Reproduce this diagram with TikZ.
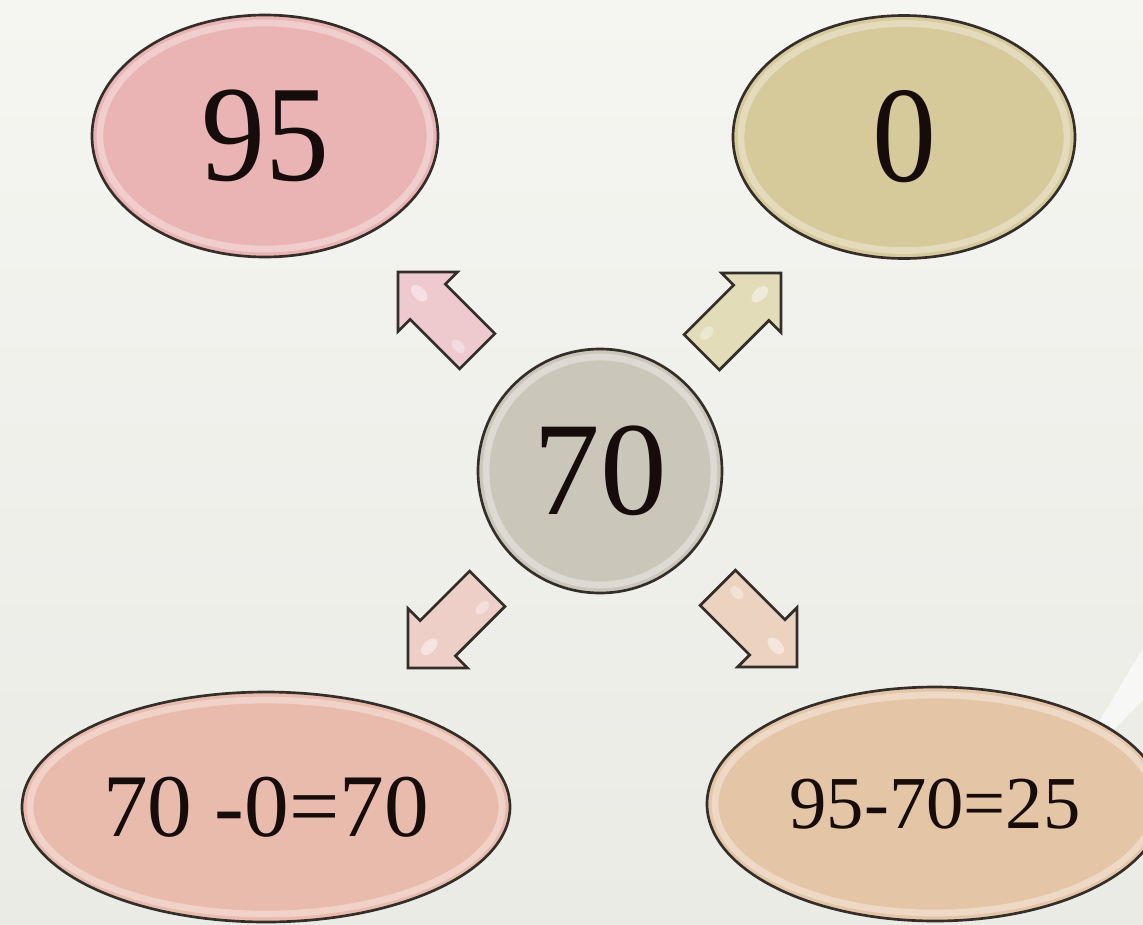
\documentclass[tikz,border=0pt]{standalone}
\usepackage{fontspec}
\setmainfont{Liberation Serif}
\usetikzlibrary{shapes.geometric,calc}
\definecolor{bgtop}{RGB}{245,245,241}
\definecolor{bgbot}{RGB}{234,235,229}
\definecolor{outl}{RGB}{52,46,42}
\definecolor{txt}{RGB}{22,12,12}
\definecolor{cpink}{RGB}{234,180,181}
\definecolor{colive}{RGB}{214,201,154}
\definecolor{cgray}{RGB}{202,199,186}
\definecolor{csalmon}{RGB}{232,187,172}
\definecolor{ctan}{RGB}{228,198,166}
\definecolor{apink}{RGB}{238,202,206}
\definecolor{aolive}{RGB}{226,220,184}
\definecolor{apinkb}{RGB}{238,207,200}
\definecolor{apeach}{RGB}{236,211,192}
\begin{document}
\begin{tikzpicture}[x=0.75pt,y=-0.75pt,
  bub/.style={ellipse, draw=outl, line width=2pt, inner sep=0pt, text=txt,
    path picture={\draw[white,opacity=.35,line width=5pt]
      let \p1=(path picture bounding box.north east),
          \p2=(path picture bounding box.south west) in
      ($(\p1)!.5!(\p2)$) ellipse [x radius={(\x1-\x2)/2-6pt}, y radius={(\y1-\y2)/2-6pt}];}},
  pics/barrow/.style={code={
    \filldraw[fill=#1, draw=outl, line width=2pt, line join=miter]
      (0,0) -- (-42,42) -- (-42,25) -- (-112,25) -- (-112,-25) -- (-42,-25) -- (-42,-42) -- cycle;
    \fill[white,opacity=.45] (-30,0) ellipse [x radius=10, y radius=6];
    \fill[white,opacity=.35] (-95,-10) ellipse [x radius=8, y radius=5];
  }}]
\useasboundingbox (0,0) rectangle (1143,925);
\shade[top color=bgtop, bottom color=bgbot] (0,0) rectangle (1143,925);
\fill[white,opacity=.6] (1143,648) -- (1143,700) -- (1102,742) -- (1090,737) -- cycle;

\node[bub, fill=cpink, minimum width=259.5pt, minimum height=181.5pt,
  font=\fontsize{96}{100}\selectfont] (e95) at (265,136) {\scalebox{1}[1.07]{95}};
\node[bub, fill=colive, minimum width=256.5pt, minimum height=182.25pt,
  font=\fontsize{96}{100}\selectfont] (e0) at (904,137) {\scalebox{1}[1.07]{0}};
\node[bub, circle, fill=cgray, minimum size=183pt,
  font=\fontsize{100}{104}\selectfont] (c70) at (600,471) {70};
\node[bub, fill=csalmon, minimum width=366pt, minimum height=172.5pt,
  font=\fontsize{67}{70}\selectfont] (eLL) at (266,807) {70 -0=70};
\node[bub, fill=ctan, minimum width=342pt, minimum height=175.5pt,
  font=\fontsize{56}{60}\selectfont] (eLR) at (935,804) {95-70=25};

\pic[rotate=135] (aUL) at (398,272) {barrow=apink};
\pic[rotate=45] (aUR) at (781,273) {barrow=aolive};
\pic[rotate=225] (aLL) at (408,668) {barrow=apinkb};
\pic[rotate=-45] (aLR) at (797,667) {barrow=apeach};
\end{tikzpicture}
\end{document}
